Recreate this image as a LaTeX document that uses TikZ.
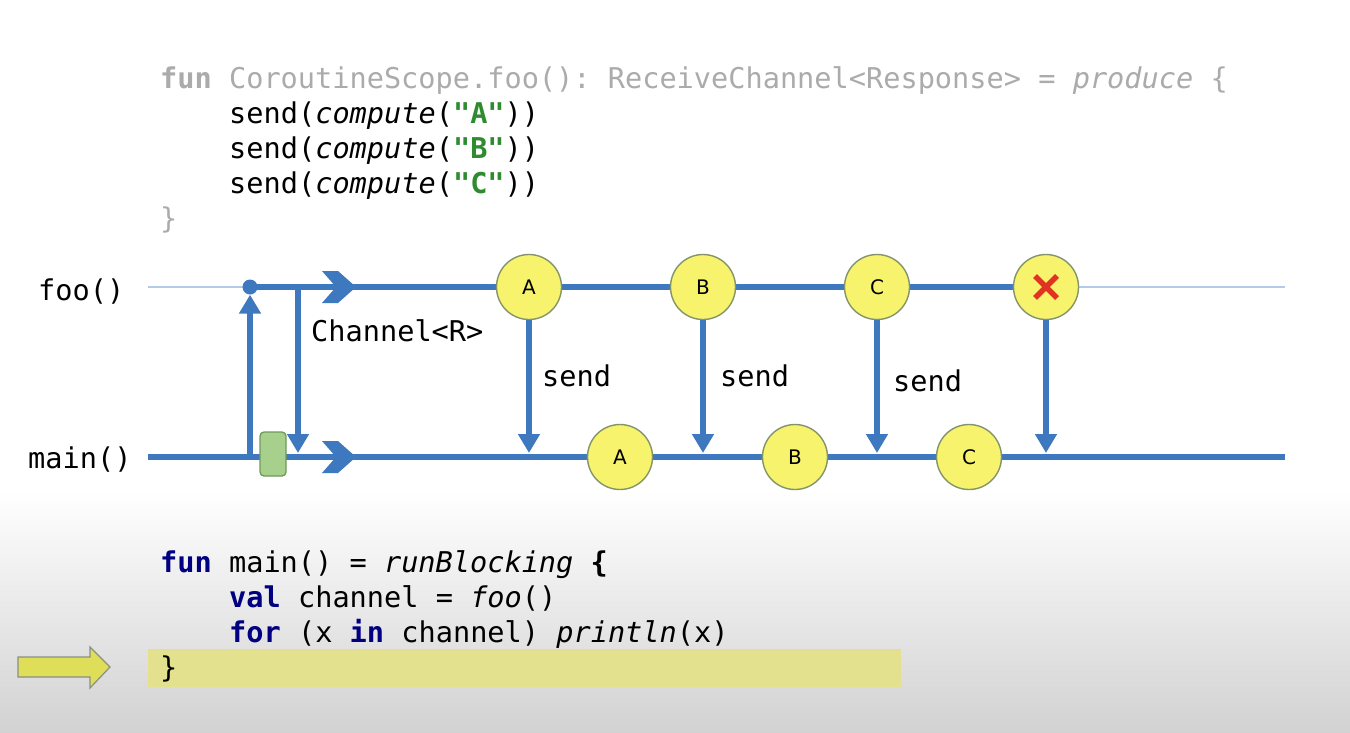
\documentclass[tikz,border=0pt]{standalone}
\usepackage{fontspec}
\setmonofont{DejaVu Sans Mono}
\newfontfamily\ballfont{DejaVu Sans}
\usetikzlibrary{arrows.meta}

\definecolor{lane}{HTML}{3E78BE}
\definecolor{lanethin}{HTML}{B3CBE8}
\definecolor{ballfill}{HTML}{F8F36C}
\definecolor{balledge}{HTML}{84946A}
\definecolor{boxfill}{HTML}{A8D08D}
\definecolor{boxedge}{HTML}{6E9A5A}
\definecolor{dimcode}{HTML}{ABABAB}
\definecolor{strgreen}{HTML}{2E8B2E}
\definecolor{kwnavy}{HTML}{000080}
\definecolor{hilite}{HTML}{E3E08E}
\definecolor{ptrfill}{HTML}{DEDE58}
\definecolor{ptredge}{HTML}{8A8F80}
\definecolor{crossred}{HTML}{E03322}
\definecolor{bgbottom}{HTML}{D2D2D2}

\newcommand{\codefont}{\ttfamily\fontsize{28.6}{35}\selectfont}
\newcommand{\kw}[1]{\textbf{\color{kwnavy}#1}}
\newcommand{\str}[1]{\textbf{\color{strgreen}#1}}

\tikzset{
  x=1pt, y=-1pt,
  code/.style={anchor=base west, inner sep=0pt, font=\codefont},
  lbl/.style={anchor=base west, inner sep=0pt, font=\codefont, text=black},
  thinlane/.style={draw=lanethin, line width=1.5pt},
  thicklane/.style={draw=lane, line width=6.5pt},
  arr/.style={draw=lane, line width=6pt, -{Triangle[width=21pt,length=19pt]}},
  ball/.style={circle, draw=balledge, line width=1.4pt, fill=ballfill,
    minimum size=65pt, inner sep=0pt, font=\ballfont\fontsize{20}{20}\selectfont},
  forkdot/.style={circle, fill=lane, minimum size=15pt, inner sep=0pt},
  suspend/.style={rectangle, rounded corners=4pt, draw=boxedge, line width=1.3pt,
    fill=boxfill, minimum width=26pt, minimum height=44pt, inner sep=0pt},
  chevron/.pic={\fill[lane] (-16,-16) -- (0,-16) -- (18,0) -- (0,16) -- (-16,16) -- (-2,0) -- cycle;}
}

\begin{document}
\begin{tikzpicture}
\useasboundingbox (0,0) rectangle (1350,732);
\fill[white] (0,0) rectangle (1350,490);
\shade[top color=white, bottom color=bgbottom] (0,490) rectangle (1350,732);

% producer source
\node[code, text=dimcode] (src1) at (160,88) {\textbf{fun} CoroutineScope.foo(): ReceiveChannel<Response> = \textit{produce} \{};
\node[code] (src2) at (229,123) {send(\textit{compute}(\str{"A"}))};
\node[code] (src3) at (229,158) {send(\textit{compute}(\str{"B"}))};
\node[code] (src4) at (229,193) {send(\textit{compute}(\str{"C"}))};
\node[code, text=dimcode] (src5) at (160,228) {\}};

% lane anchors
\coordinate (fooL) at (148,287);
\coordinate (fooR) at (1285,287);
\coordinate (fooEnd) at (1046,287);
\coordinate (mainL) at (148,457);
\coordinate (mainR) at (1285,457);
\coordinate (callpt) at (250,457);
\coordinate (retpt) at (298,287);
\coordinate (retend) at (298,453);

\node[lbl] (foolbl) at (38,300) {foo()};
\node[lbl] (mainlbl) at (28,468) {main()};

% lanes
\draw[thinlane] (fooL) -- (fooR);
\node[forkdot] (fork) at (250,287) {};
\draw[thicklane] (fork.center) -- (fooEnd);
\draw[thicklane] (mainL) -- (mainR);

% coroutine start and channel return
\draw[arr] (callpt) -- (fork.south);
\draw[arr] (retpt) -- (retend);
\node[lbl] (chlbl) at (311,341) {Channel<R>};

\pic at (338,287) {chevron};
\pic at (338,457) {chevron};
\node[suspend] (wait) at (273,454) {};

% produced elements
\node[ball] (ta) at (529,287) {A};
\node[ball] (tb) at (703,287) {B};
\node[ball] (tc) at (877,287) {C};
\node[ball] (tx) at (fooEnd) {};
\draw[crossred, line width=5.5pt]
  ([shift={(-11,-11)}]tx.center) -- ([shift={(11,11)}]tx.center)
  ([shift={(11,-11)}]tx.center) -- ([shift={(-11,11)}]tx.center);

% received elements
\node[ball] (ra) at (620,457) {A};
\node[ball] (rb) at (795,457) {B};
\node[ball] (rc) at (969,457) {C};

% send transfers
\draw[arr, shorten >=4pt] (ta) -- (ta |- mainL);
\draw[arr, shorten >=4pt] (tb) -- (tb |- mainL);
\draw[arr, shorten >=4pt] (tc) -- (tc |- mainL);
\draw[arr, shorten >=4pt] (tx) -- (tx |- mainL);
\node[lbl] (s1) at (542,386) {send};
\node[lbl] (s2) at (720,386) {send};
\node[lbl] (s3) at (893,391) {send};

% consumer source
\fill[hilite] (148,649) rectangle (901,687);
\node[code] (m1) at (160,572) {\kw{fun} main() = \textit{runBlocking} \textbf{\{}};
\node[code] (m2) at (229,607) {\kw{val} channel = \textit{foo}()};
\node[code] (m3) at (229,642) {\kw{for} (x \kw{in} channel) \textit{println}(x)};
\node[code] (m4) at (160,677) {\}};

% current line pointer
\draw[draw=ptredge, fill=ptrfill, line width=1.2pt]
  (18,657) -- (90,657) -- (90,647) -- (110,667) -- (90,688) -- (90,677) -- (18,677) -- cycle;
\end{tikzpicture}
\end{document}
